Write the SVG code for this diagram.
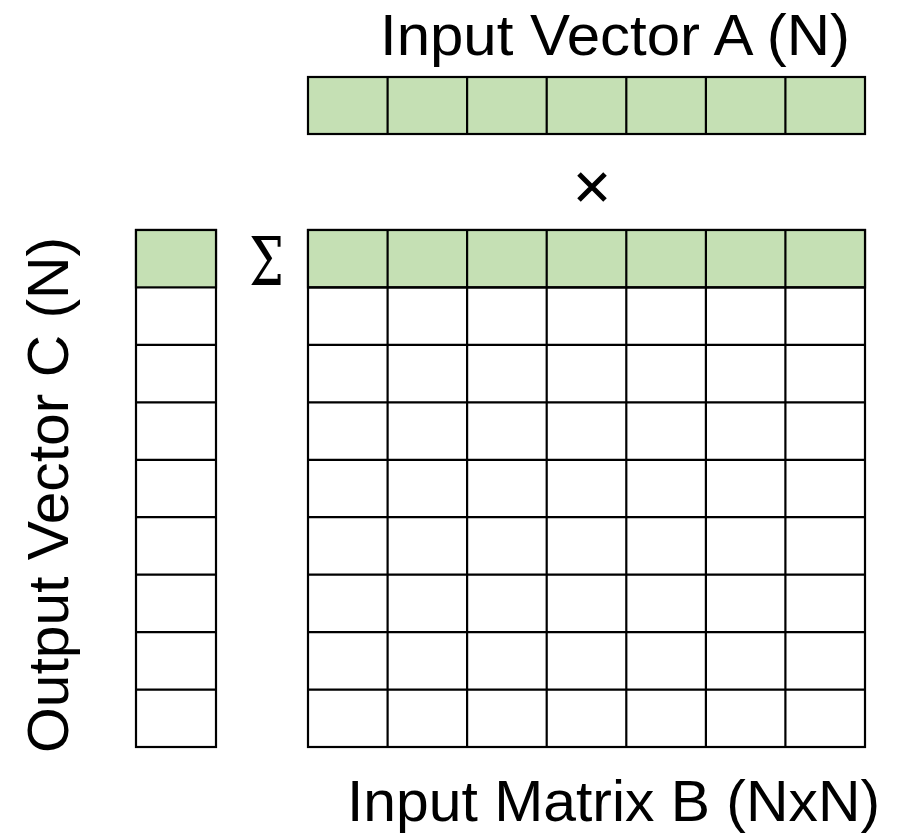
<svg xmlns="http://www.w3.org/2000/svg" width="897" height="834" viewBox="0 0 897 834">
  <style>
    .cell { fill: #ffffff; stroke: #000000; stroke-width: 2.2; }
    .hot { fill: #c5e0b4; stroke: #000000; stroke-width: 2.2; }
    .grid { fill: none; stroke: #000000; stroke-width: 2.2; }
    .label { font-family: "Liberation Sans", "Noto Sans", sans-serif; font-size: 58px; fill: #000000; }
    .op { font-family: "DejaVu Serif", "Liberation Serif", serif; fill: #000000; }
  </style>
  <rect width="897" height="834" fill="#ffffff"/>

  <!-- Input vector A: 7 cells -->
  <g id="vectorA">
    <rect class="hot" x="308" y="77" width="557" height="57"/>
    <path class="grid" d="M387.6 77V134M467.1 77V134M546.7 77V134M626.3 77V134M705.9 77V134M785.4 77V134"/>
  </g>

  <!-- Input matrix B: 7 columns x 9 rows, first row highlighted -->
  <g id="matrixB">
    <rect class="cell" x="308" y="230" width="557" height="517"/>
    <rect class="hot" x="308" y="230" width="557" height="57.4"/>
    <path class="grid" d="M387.6 230V747M467.1 230V747M546.7 230V747M626.3 230V747M705.9 230V747M785.4 230V747"/>
    <path class="grid" d="M308 287.4H865M308 344.9H865M308 402.3H865M308 459.8H865M308 517.2H865M308 574.7H865M308 632.1H865M308 689.6H865"/>
  </g>

  <!-- Output vector C: 9 cells, first highlighted -->
  <g id="vectorC">
    <rect class="cell" x="136" y="230" width="80" height="517"/>
    <rect class="hot" x="136" y="230" width="80" height="57.4"/>
    <path class="grid" d="M136 344.9H216M136 402.3H216M136 459.8H216M136 517.2H216M136 574.7H216M136 632.1H216M136 689.6H216"/>
  </g>

  <!-- operators -->
  <g id="times">
    <path d="M579 174L605 200M605 174L579 200" fill="none" stroke="#000000" stroke-width="5"/>
  </g>
  <g id="sum">
    <text class="op" transform="translate(266.5,285) scale(0.72,1)" font-size="68" text-anchor="middle">Σ</text>
  </g>

  <!-- labels -->
  <g id="labels">
    <text class="label" x="380" y="55" textLength="470" lengthAdjust="spacingAndGlyphs">Input Vector A (N)</text>
    <text class="label" x="347" y="821" textLength="533" lengthAdjust="spacingAndGlyphs">Input Matrix B (NxN)</text>
    <text class="label" transform="translate(68,753) rotate(-90)" textLength="516" lengthAdjust="spacingAndGlyphs">Output Vector C (N)</text>
  </g>
</svg>
